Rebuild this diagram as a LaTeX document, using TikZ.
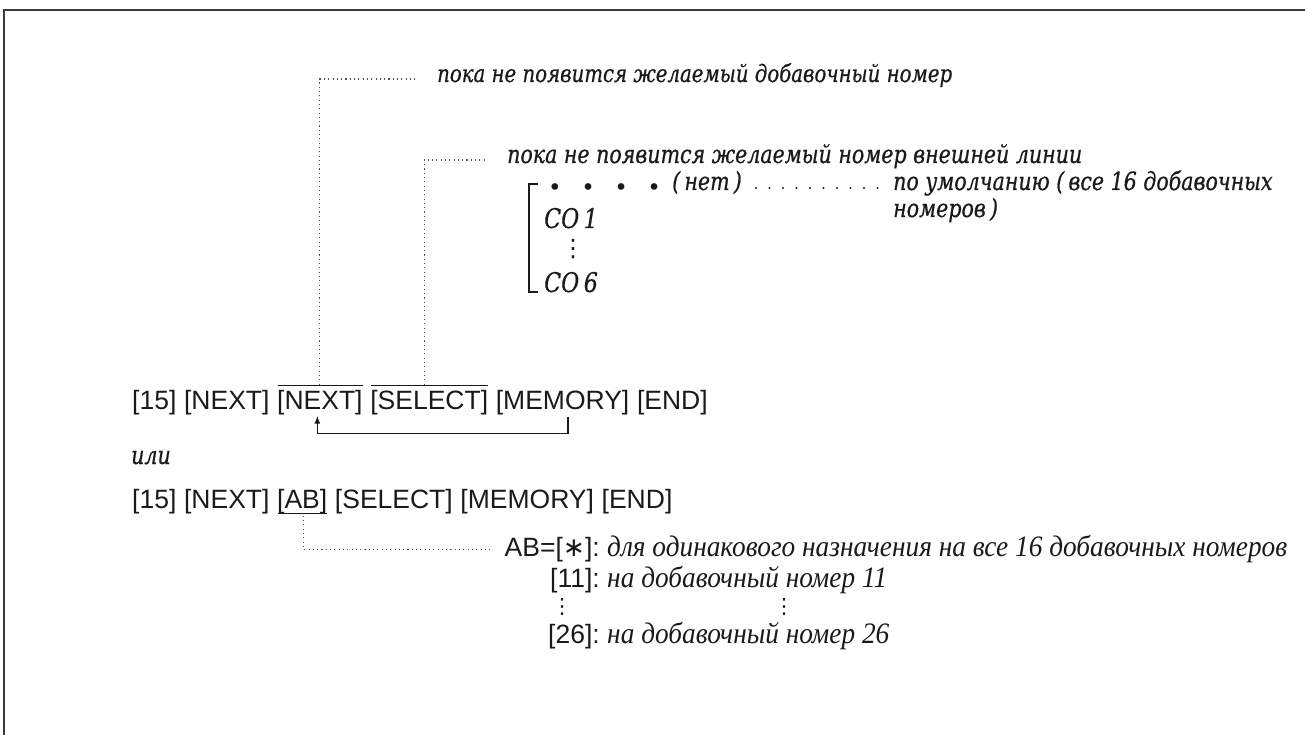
\documentclass[tikz,border=0pt]{standalone}
\usepackage{fontspec}
\setmainfont{DejaVu Serif}
\newfontfamily\cent[FakeStretch=0.82,FakeBold=0.6]{DejaVu Serif}
\newfontfamily\tms[FakeStretch=0.92]{Liberation Serif}
\newfontfamily\hel{Liberation Sans}
\newfontfamily\djs{DejaVu Sans}
\usetikzlibrary{arrows.meta,calc}
\definecolor{ink}{HTML}{1A1A1A}
\definecolor{dotc}{HTML}{555555}
\definecolor{framec}{HTML}{3A3A3A}
\newlength\fitlen
\newcommand\fitsize[3]{\settowidth\fitlen{#3}\pgfmathsetmacro#1{10*#2/\fitlen}}
\tikzset{
 lbl/.style={inner sep=0pt, anchor=base west, text=ink},
 keyf/.style={lbl, font=\hel\fontsize{26.5}{30}\selectfont},
 notef/.style={lbl, font=\cent\itshape\fontsize{\szA}{\szA}\selectfont},
 notea/.style={lbl, font=\cent\itshape\fontsize{\szC}{\szC}\selectfont},
 cofont/.style={lbl, font=\cent\itshape\fontsize{27}{30}\selectfont},
 bkey/.style={inner sep=0pt, anchor=base east, text=ink, font=\hel\fontsize{26.5}{30}\selectfont},
 bnote/.style={lbl, font=\tms\itshape\fontsize{\szB}{\szB}\selectfont},
 vdf/.style={inner sep=0pt, text=ink, font=\djs\fontsize{24}{24}\selectfont},
 vds/.style={inner sep=0pt, text=ink, font=\djs\fontsize{21}{21}\selectfont},
 dotl/.style={draw=dotc, line width=1.1pt, dash pattern=on 1.1pt off 3.2pt},
 leaderl/.style={draw=ink, line width=2.4pt, line cap=round, dash pattern=on 0pt off 13.5pt},
 framel/.style={draw=framec, line width=1.6pt},
 ovl/.style={draw=ink, line width=1.3pt},
}
\begin{document}
\fitsize\szA{575}{\cent\itshape\fontsize{10}{12}\selectfont пока не появится желаемый номер внешней линии}%
\fitsize\szC{515}{\cent\itshape\fontsize{10}{12}\selectfont пока не появится желаемый добавочный номер}%
\fitsize\szB{680}{\tms\itshape\fontsize{10}{12}\selectfont для одинакового назначения на все 16 добавочных номеров}%
\begin{tikzpicture}[x=1pt,y=-1pt]
\useasboundingbox (0,0) rectangle (1305,735);
\draw[framel] (4,735) -- (4,10) -- (1305,10);

% top notes
\node[notea] (t1) at (437,82) {пока не появится желаемый добавочный номер};
\node[notef] (t2) at (507,163) {пока не появится желаемый номер внешней линии};
\node[lbl, font=\djs\fontsize{23}{23}\selectfont] (bul) at (548,196) {•\hspace{19.5pt}•\hspace{19.5pt}•\hspace{19.5pt}•};
\node[notef] (net) at (672,190) {(\,нет\,)};
\node[notef] (def1) at (893,190) {по умолчанию (\,все 16 добавочных};
\node[notef] (def2) at (893,217) {номеров\,)};
\draw[leaderl] ([xshift=14pt,yshift=2pt]net.base east) -- ([xshift=-12pt,yshift=2pt]def1.base west);
\node[cofont] (co1) at (544,228) {CO\,1};
\node[vdf] (vd0) at (573,249) {⋮};
\node[cofont] (co6) at (544,292) {CO\,6};
\draw[ovl] (538,184) -| (529,292) -- (538,292);

% main line
\node[keyf] (k1) at (132,409) {[15]};
\node[keyf] (k2) at ([xshift=7.3pt]k1.base east) {[NEXT]};
\node[keyf] (k3) at ([xshift=7.3pt]k2.base east) {[NEXT]};
\node[keyf] (k4) at ([xshift=7.3pt]k3.base east) {[SELECT]};
\node[keyf] (k5) at ([xshift=7.3pt]k4.base east) {[MEMORY]};
\node[keyf] (k6) at ([xshift=7.3pt]k5.base east) {[END]};
\draw[ovl] ([xshift=1pt,yshift=4pt]k3.north west) -- ([yshift=4pt]k3.north east);
\draw[ovl] ([xshift=1pt,yshift=4pt]k4.north west) -- ([yshift=4pt]k4.north east);
\coordinate (o3) at ($([yshift=5pt]k3.north west)!0.5!([yshift=5pt]k3.north east)$);
\coordinate (o4) at ($([yshift=5pt]k4.north west)!0.46!([yshift=5pt]k4.north east)$);
\draw[dotl] (o3) |- ([xshift=-22pt,yshift=3pt]t1.base west);
\draw[dotl] (o4) |- ([xshift=-20pt,yshift=3pt]t2.base west);
\coordinate (mr) at ($(k5.south west)!0.54!(k5.south east)$);
\coordinate (nl) at ($(k3.south west)!0.47!(k3.south east)$);
\draw[ovl, -{Latex[length=8pt,width=6pt]}] ([yshift=-2pt]mr) -- ++(0,17) -| ([yshift=-1pt]nl);

\node[notef] (ili) at (131,464) {или};

% second line
\node[keyf] (m1) at (132,508) {[15]};
\node[keyf] (m2) at ([xshift=7.3pt]m1.base east) {[NEXT]};
\node[keyf] (m3) at ([xshift=7.3pt]m2.base east) {[AB]};
\node[keyf] (m4) at ([xshift=7.3pt]m3.base east) {[SELECT]};
\node[keyf] (m5) at ([xshift=7.3pt]m4.base east) {[MEMORY]};
\node[keyf] (m6) at ([xshift=7.3pt]m5.base east) {[END]};
\draw[ovl] ([xshift=1pt]m3.south west) -- (m3.south east);
\coordinate (u3) at ($(m3.south west)!0.52!(m3.south east)$);

% bottom
\node[bkey] (ab) at (600,556) {AB=[{\djs ∗}]:};
\node[bnote] (abt) at (607,556) {для одинакового назначения на все 16 добавочных номеров};
\node[bkey] (b11) at (600,587) {[11]:};
\node[bnote] (t11) at (607,587) {на добавочный номер 11};
\node[vds] (vd1) at (562,607) {⋮};
\node[vds] (vd2) at (784,607) {⋮};
\node[bkey] (b26) at (600,643) {[26]:};
\node[bnote] (t26) at (607,643) {на добавочный номер 26};
\draw[dotl] ([yshift=-2pt]u3) |- ([xshift=-14pt]ab.west);
\end{tikzpicture}
\end{document}
